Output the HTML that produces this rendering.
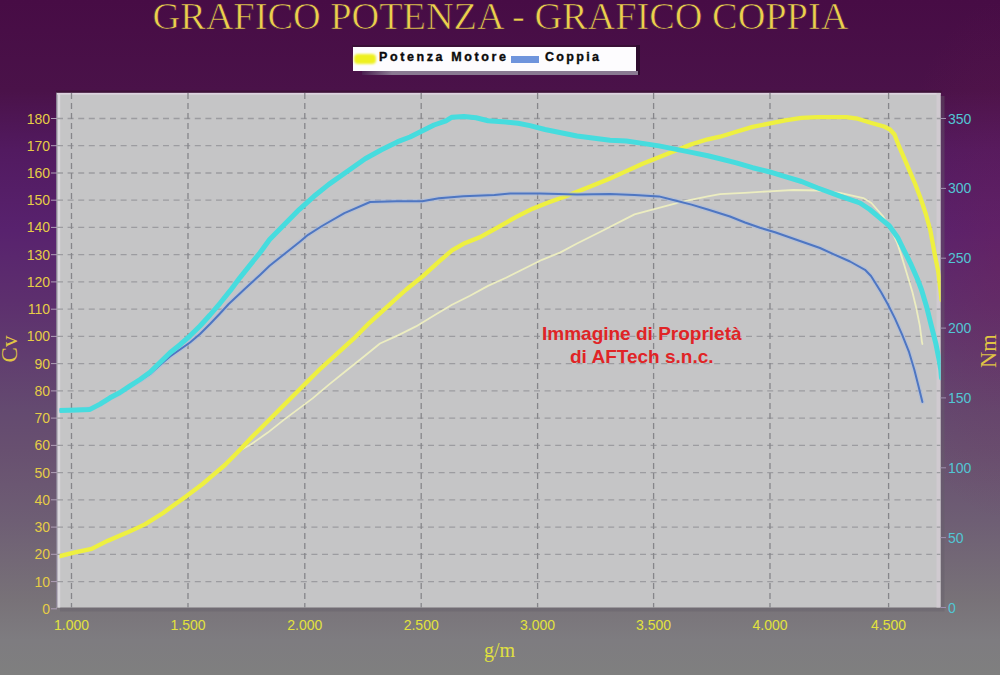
<!DOCTYPE html>
<html><head><meta charset="utf-8"><style>
html,body{margin:0;padding:0;}
body{width:1000px;height:675px;overflow:hidden;position:relative;
background:radial-gradient(ellipse 110px 260px at 1000px 260px,rgba(120,30,80,0.28),rgba(120,30,80,0) 100%),linear-gradient(180deg,#470c45 0px,#4a1249 90px,#521a60 150px,#58226e 230px,#5d2f6e 300px,#644a70 410px,#685070 450px,#6e5e74 520px,#787278 600px,#7e7c80 640px,#7f7f7f 675px);
font-family:"Liberation Sans",sans-serif;}
.t{position:absolute;white-space:nowrap;}
#title{left:152.5px;top:-5.8px;font-family:"Liberation Serif",serif;font-size:38.3px;color:#ecd04c;letter-spacing:0px;-webkit-text-stroke:0.7px #4a1249;}
#leg{position:absolute;left:352.5px;top:47px;width:283.5px;height:24px;background:#fdfcfe;}
#wm{left:542px;top:322px;font-size:19px;font-weight:bold;color:#e02426;text-align:center;line-height:23px;}
svg{position:absolute;left:0;top:0;}
</style></head><body>
<svg width="1000" height="675" viewBox="0 0 1000 675">
<rect x="60" y="96" width="884.5" height="515.5" fill="rgb(100,95,104)" fill-opacity="0.4"/>
<rect x="56" y="92.5" width="884.5" height="515.0" fill="#c5c5c6"/>
<rect x="56" y="92.5" width="1.6" height="515.0" fill="#8a8294"/>
<rect x="57.6" y="93" width="2.6" height="514.5" fill="#d9d7dc"/>
<rect x="57" y="93" width="883.5" height="1.6" fill="#dcd4de"/>
<rect x="936.5" y="93" width="4" height="514.5" fill="#d0cad0"/>
<rect x="56" y="90.6" width="885.5" height="2" fill="#3c1236"/>
<path d="M57,581.6H940.5M57,554.3H940.5M57,527.1H940.5M57,499.8H940.5M57,472.6H940.5M57,445.4H940.5M57,418.1H940.5M57,390.9H940.5M57,363.6H940.5M57,336.4H940.5M57,309.2H940.5M57,281.9H940.5M57,254.7H940.5M57,227.4H940.5M57,200.2H940.5M57,173.0H940.5M57,145.7H940.5M57,118.5H940.5" stroke="#9c9ca0" stroke-width="1.3" stroke-dasharray="6 4.6" fill="none"/>
<path d="M71.5,93V607.5M188.0,93V607.5M304.8,93V607.5M421.2,93V607.5M537.6,93V607.5M653.6,93V607.5M770.0,93V607.5M888.6,93V607.5" stroke="#86868a" stroke-width="1.3" stroke-dasharray="6 4" fill="none"/>
<path d="M51,608.8H57M51,581.6H57M51,554.3H57M51,527.1H57M51,499.8H57M51,472.6H57M51,445.4H57M51,418.1H57M51,390.9H57M51,363.6H57M51,336.4H57M51,309.2H57M51,281.9H57M51,254.7H57M51,227.4H57M51,200.2H57M51,173.0H57M51,145.7H57M51,118.5H57" stroke="#b0a0b8" stroke-width="1" fill="none"/>
<path d="M940.5,607.5H946M940.5,537.6H946M940.5,467.8H946M940.5,397.9H946M940.5,328.1H946M940.5,258.2H946M940.5,188.4H946M940.5,118.5H946" stroke="#a090b0" stroke-width="1" fill="none"/>
<defs><clipPath id="pc"><rect x="59.6" y="93" width="881" height="514"/></clipPath></defs><g clip-path="url(#pc)">
<polyline points="59.0,556.3 73.8,552.6 91.6,548.9 107.9,540.7 127.1,532.6 144.9,524.4 162.7,513.3 171.6,506.8 186.3,496.2 202.6,484.0 212.4,475.6 224.9,465.0 240.0,450.5 251.5,444.0 267.8,432.6 284.1,419.6 312.6,398.4 328.9,384.6 345.2,371.5 361.5,358.5 380.0,343.5 398.0,335.4 416.0,326.4 434.0,315.6 452.0,304.8 470.0,295.8 488.0,285.9 506.0,277.8 524.0,268.8 542.0,259.8 560.0,252.6 577.0,243.5 600.0,232.0 634.5,214.4 658.9,207.8 683.4,201.3 707.8,196.4 720.0,194.2 744.5,192.9 768.9,191.3 793.4,190.0 817.8,190.5 840.0,192.9 863.3,198.1 871.4,203.0 882.8,216.0 890.9,229.1 897.5,243.7 902.3,258.4 907.2,274.7 912.4,292.0 916.2,307.8 919.8,325.6 921.9,341.6 922.4,344.0" fill="none" stroke="#ecedc0" stroke-width="1.8" stroke-linejoin="round" stroke-linecap="round"/>
<polyline points="59.0,556.3 73.8,552.6 91.6,548.9 107.9,540.7 127.1,532.6 144.9,524.4 162.7,513.3 171.6,506.8 186.3,496.2 202.6,484.0 212.4,475.6 224.9,465.0 237.3,452.5 251.5,437.5 267.8,421.2 286.0,403.0 304.5,384.5 320.8,368.3 337.1,353.6 353.4,338.9 369.7,322.6 386.0,307.9 399.0,296.0 406.3,289.5 422.6,276.4 438.9,261.7 452.0,250.3 463.4,243.8 479.7,237.3 496.0,228.3 516.3,216.9 532.6,208.7 548.9,202.2 565.2,196.5 581.5,190.0 597.8,183.4 610.0,178.5 626.3,171.1 642.6,163.8 658.9,157.3 675.2,150.8 691.5,144.2 707.8,139.3 720.0,136.7 736.3,131.8 752.6,126.9 768.9,123.6 785.2,120.4 801.5,117.9 817.8,117.1 846.3,117.1 857.7,118.7 870.7,122.8 884.0,126.5 890.0,129.5 894.5,134.5 899.2,146.7 904.6,159.1 909.9,171.6 915.2,184.0 920.6,198.2 925.9,214.2 930.3,230.2 932.1,240.0 934.9,255.1 938.2,271.4 940.6,291.0 941.5,300.0" fill="none" stroke="#eef040" stroke-width="4.3" stroke-linejoin="round" stroke-linecap="round"/>
<polyline points="58.0,410.6 76.7,410.0 91.0,408.6 100.0,404.5 110.0,398.5 120.0,393.2 130.0,386.6 140.0,380.5 150.0,374.0 160.0,365.0 170.0,356.5 180.0,349.5 190.0,342.5 200.0,334.0 210.0,324.0 220.0,313.5 228.7,304.0 244.7,289.1 260.0,274.9 269.6,265.8 284.4,254.0 299.2,242.2 308.1,234.8 322.0,226.0 344.4,213.2 370.1,202.0 396.3,201.2 422.2,201.2 438.9,198.2 463.4,196.2 494.4,194.9 510.0,193.6 540.0,193.5 577.0,194.5 610.0,194.0 634.5,195.1 658.9,196.4 675.2,200.5 691.5,204.6 707.8,209.5 730.0,216.5 745.0,222.5 760.0,227.8 775.0,232.3 790.0,237.5 805.0,242.8 820.0,248.0 835.0,254.8 850.0,261.5 865.0,269.8 871.0,276.0 876.0,284.0 881.0,292.0 887.8,304.2 894.9,318.4 902.0,334.4 909.1,352.2 914.4,370.0 918.9,387.8 922.4,402.0" fill="none" stroke="#aabce0" stroke-opacity="0.55" stroke-width="4.5" stroke-linejoin="round" stroke-linecap="round"/>
<polyline points="58.0,410.6 76.7,410.0 91.0,408.6 100.0,404.5 110.0,398.5 120.0,393.2 130.0,386.6 140.0,380.5 150.0,374.0 160.0,365.0 170.0,356.5 180.0,349.5 190.0,342.5 200.0,334.0 210.0,324.0 220.0,313.5 228.7,304.0 244.7,289.1 260.0,274.9 269.6,265.8 284.4,254.0 299.2,242.2 308.1,234.8 322.0,226.0 344.4,213.2 370.1,202.0 396.3,201.2 422.2,201.2 438.9,198.2 463.4,196.2 494.4,194.9 510.0,193.6 540.0,193.5 577.0,194.5 610.0,194.0 634.5,195.1 658.9,196.4 675.2,200.5 691.5,204.6 707.8,209.5 730.0,216.5 745.0,222.5 760.0,227.8 775.0,232.3 790.0,237.5 805.0,242.8 820.0,248.0 835.0,254.8 850.0,261.5 865.0,269.8 871.0,276.0 876.0,284.0 881.0,292.0 887.8,304.2 894.9,318.4 902.0,334.4 909.1,352.2 914.4,370.0 918.9,387.8 922.4,402.0" fill="none" stroke="#4e76c2" stroke-width="2" stroke-linejoin="round" stroke-linecap="round"/>
<polyline points="58.0,410.6 76.7,410.0 90.0,409.4 100.0,404.1 110.0,397.8 120.0,392.5 130.0,385.8 140.0,379.5 150.0,372.3 160.0,362.5 170.0,352.7 180.0,344.7 190.0,335.8 200.0,326.0 210.0,315.0 220.0,303.3 230.0,290.9 240.0,277.6 250.0,265.1 260.0,252.7 269.6,239.5 284.4,224.4 299.2,209.6 314.0,196.3 328.8,184.4 348.9,170.2 365.2,158.8 381.5,149.8 397.8,141.7 410.0,137.0 422.0,131.0 434.0,125.0 446.0,120.8 452.0,117.2 464.0,116.6 476.0,117.8 488.0,120.8 506.0,122.0 518.0,123.2 530.0,125.6 545.0,129.5 577.0,136.0 610.0,140.2 626.3,141.0 642.6,143.4 658.9,145.9 675.2,149.1 691.5,152.4 707.8,155.7 720.0,158.7 736.3,162.8 752.6,167.7 768.9,171.7 785.2,176.6 801.5,181.5 817.8,188.0 840.0,196.2 860.0,203.0 869.8,209.5 879.5,217.7 889.3,225.8 897.5,237.2 904.0,250.3 910.5,263.3 917.0,277.9 921.6,290.0 926.9,307.8 931.3,325.6 935.8,343.3 939.3,361.1 940.8,370.0 941.5,378.0" fill="none" stroke="#46dcde" stroke-width="5" stroke-linejoin="round" stroke-linecap="round"/></g>
<g font-family="Liberation Sans" font-size="14" fill="#e6cc46"><text x="50" y="613.8" text-anchor="end">0</text><text x="50" y="586.6" text-anchor="end">10</text><text x="50" y="559.3" text-anchor="end">20</text><text x="50" y="532.1" text-anchor="end">30</text><text x="50" y="504.8" text-anchor="end">40</text><text x="50" y="477.6" text-anchor="end">50</text><text x="50" y="450.4" text-anchor="end">60</text><text x="50" y="423.1" text-anchor="end">70</text><text x="50" y="395.9" text-anchor="end">80</text><text x="50" y="368.6" text-anchor="end">90</text><text x="50" y="341.4" text-anchor="end">100</text><text x="50" y="314.2" text-anchor="end">110</text><text x="50" y="286.9" text-anchor="end">120</text><text x="50" y="259.7" text-anchor="end">130</text><text x="50" y="232.4" text-anchor="end">140</text><text x="50" y="205.2" text-anchor="end">150</text><text x="50" y="178.0" text-anchor="end">160</text><text x="50" y="150.7" text-anchor="end">170</text><text x="50" y="123.5" text-anchor="end">180</text></g>
<g font-family="Liberation Sans" font-size="14" fill="#52c6d4"><text x="948" y="612.5">0</text><text x="948" y="542.6">50</text><text x="948" y="472.8">100</text><text x="948" y="402.9">150</text><text x="948" y="333.1">200</text><text x="948" y="263.2">250</text><text x="948" y="193.4">300</text><text x="948" y="123.5">350</text></g>
<g font-family="Liberation Sans" font-size="14" fill="#e2e23c"><text x="71.5" y="630" text-anchor="middle">1.000</text><text x="188.0" y="630" text-anchor="middle">1.500</text><text x="304.8" y="630" text-anchor="middle">2.000</text><text x="421.2" y="630" text-anchor="middle">2.500</text><text x="537.6" y="630" text-anchor="middle">3.000</text><text x="653.6" y="630" text-anchor="middle">3.500</text><text x="770.0" y="630" text-anchor="middle">4.000</text><text x="888.6" y="630" text-anchor="middle">4.500</text></g>
</svg>
<div class="t" id="title">GRAFICO POTENZA - GRAFICO COPPIA</div>
<div style="position:absolute;left:352px;top:44.5px;width:288px;height:2.5px;background:#3a1036"></div>
<div style="position:absolute;left:636px;top:45px;width:3.5px;height:30px;background:#2e0c2e"></div>
<div style="position:absolute;left:362px;top:71px;width:276px;height:3.5px;background:linear-gradient(90deg,#4a2050,#8a7a92 30px,#8a7a92)"></div>
<div id="leg">
 <div style="position:absolute;left:1.5px;top:6.5px;width:22px;height:10px;background:#eef020;border-radius:4px;filter:blur(0.8px)"></div>
 <div class="t" style="left:26.5px;top:3px;font-size:12.5px;font-weight:bold;letter-spacing:2.6px;color:#0a0a0a;-webkit-text-stroke:0.35px #0a0a0a">Potenza Motore</div>
 <div style="position:absolute;left:158px;top:9px;width:28.5px;height:7px;background:#6e94dc;filter:blur(0.4px)"></div>
 <div class="t" style="left:192.5px;top:3px;font-size:12.5px;font-weight:bold;letter-spacing:2.3px;color:#0a0a0a;-webkit-text-stroke:0.35px #0a0a0a">Coppia</div>
</div>
<div class="t" id="wm">Immagine di Proprietà<br>di AFTech s.n.c.</div>
<div class="t" style="left:484px;top:639px;font-family:'Liberation Serif',serif;font-size:20px;color:#e0e040">g/m</div>
<div class="t" style="left:-4px;top:336px;width:28px;text-align:center;transform:rotate(-90deg);font-family:'Liberation Serif',serif;font-size:23px;color:#e0c444">Cv</div>
<div class="t" style="left:972px;top:338px;transform:rotate(-90deg);font-family:'Liberation Serif',serif;font-size:22.5px;color:#e0c444">Nm</div>
</body></html>
